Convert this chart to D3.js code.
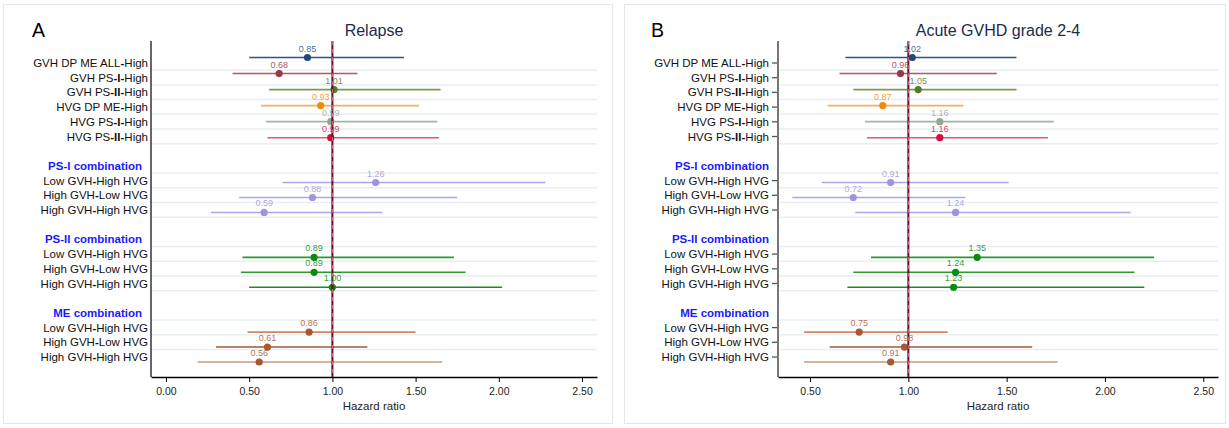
<!DOCTYPE html>
<html>
<head>
<meta charset="utf-8">
<script src="https://cdn.jsdelivr.net/npm/d3@7"></script>
<style>
  body { margin: 0; background: #fff; }
  svg { display: block; font-family: "Liberation Sans", Arial, sans-serif; }
</style>
</head>
<body>
<script>
// rows, top to bottom ("" = empty spacer row)
const rowLabels = [
  "GVH DP ME ALL-High", "GVH PS-I-High", "GVH PS-II-High", "HVG DP ME-High", "HVG PS-I-High", "HVG PS-II-High",
  "",
  "PS-I combination", "Low GVH-High HVG", "High GVH-Low HVG", "High GVH-High HVG",
  "",
  "PS-II combination", "Low GVH-High HVG", "High GVH-Low HVG", "High GVH-High HVG",
  "",
  "ME combination", "Low GVH-High HVG", "High GVH-Low HVG", "High GVH-High HVG"
];
const headerRows = [7, 12, 17];
// rows that carry an estimate
const estRows = [0, 1, 2, 3, 4, 5, 8, 9, 10, 13, 14, 15, 18, 19, 20];

// A: relapse
const relapseHR = [0.85, 0.68, 1.01, 0.93, 0.99, 0.99, 1.26, 0.88, 0.59, 0.89, 0.89, 1.00, 0.86, 0.61, 0.56];
const relapseLo = [0.50, 0.40, 0.62, 0.57, 0.60, 0.61, 0.70, 0.44, 0.27, 0.46, 0.45, 0.50, 0.49, 0.30, 0.19];
const relapseHi = [1.43, 1.15, 1.65, 1.52, 1.63, 1.64, 2.28, 1.75, 1.30, 1.73, 1.80, 2.02, 1.50, 1.21, 1.66];

// B: acute GVHD grade 2-4
const gvhdHR = [1.02, 0.96, 1.05, 0.87, 1.16, 1.16, 0.91, 0.72, 1.24, 1.35, 1.24, 1.23, 0.75, 0.98, 0.91];
const gvhdLo = [0.68, 0.65, 0.72, 0.59, 0.78, 0.79, 0.56, 0.41, 0.73, 0.81, 0.72, 0.69, 0.47, 0.60, 0.47];
const gvhdHi = [1.55, 1.45, 1.55, 1.28, 1.74, 1.71, 1.51, 1.29, 2.13, 2.25, 2.15, 2.20, 1.20, 1.63, 1.76];

const pointColors = ["#1f4b7a", "#933845", "#557a2a", "#ea8c0f", "#8fa89a", "#d1103c",
  "#9d97da", "#9d97da", "#9d97da", "#0a8a10", "#0a8a10", "#0a8a10", "#a8572f", "#a8572f", "#a8572f"];
const lineColors = ["#2d5680", "#b35866", "#7a9a50", "#f2b060", "#9fb5a9", "#e0587a",
  "#aba6e4", "#aba6e4", "#aba6e4", "#2d9a2d", "#2d9a2d", "#1f8a1f", "#c58a6a", "#9a5a3a", "#c59a80"];

const xTicksA = [0, 0.5, 1, 1.5, 2, 2.5];
const xTicksB = [0.5, 1, 1.5, 2, 2.5];

let width = 1229;
let height = 428;

let svg = d3.select("body")
    .append("svg")
    .attr("width", width)
    .attr("height", height);

let plotTop = 41;
let plotBottom = 377;

// label rows and marker rows sit on slightly different vertical scales in the original
let yLab = d3.scaleLinear().domain([0, 20]).range([63, 357]);
let yMark = d3.scaleLinear().domain([0, 5, 20]).range([57.5, 137.7, 362]);

let panels = [
  { letter: "A", title: "Relapse", frame: [3.5, 4.5, 609, 419], letterX: 32,
    labelX: 148, headerX: 142, axisX: 151, right: 597, domain: [-0.09, 2.59],
    ticks: xTicksA, hr: relapseHR, lo: relapseLo, hi: relapseHi, yTicks: false, yAxisColor: "#000" },
  { letter: "B", title: "Acute GVHD grade 2-4", frame: [624.5, 4.5, 601, 419], letterX: 651,
    labelX: 769, headerX: 769, axisX: 778, right: 1218, domain: [0.337, 2.575],
    ticks: xTicksB, hr: gvhdHR, lo: gvhdLo, hi: gvhdHi, yTicks: true, yAxisColor: "#777" }
];

// bold hyphens and roman numerals, as in the original labels
function addLabelText(sel, text) {
    let parts = text.split(/(-I+-|-)/);
    parts.forEach(p => {
        if (p === "") return;
        sel.append("tspan")
            .attr("font-weight", /^-/.test(p) ? "bold" : null)
            .text(p);
    });
}

panels.forEach(p => {
    let g = svg.append("g");

    g.append("rect")
        .attr("x", p.frame[0]).attr("y", p.frame[1])
        .attr("width", p.frame[2]).attr("height", p.frame[3])
        .attr("fill", "#fff")
        .attr("stroke", "#e6e6e6");

    g.append("text")
        .attr("x", p.letterX).attr("y", 37)
        .attr("font-size", 19.5)
        .attr("fill", "#000")
        .text(p.letter);

    g.append("text")
        .attr("x", (p.axisX + p.right) / 2).attr("y", 36)
        .attr("text-anchor", "middle")
        .attr("font-size", 16)
        .attr("fill", "#1c2b4a")
        .text(p.title);

    let x = d3.scaleLinear().domain(p.domain).range([p.axisX, p.right]);

    // gridlines under every filled row except the last
    let gridRows = rowLabels.map((l, i) => i).filter(i => rowLabels[i] !== "" && i < rowLabels.length - 1);
    g.selectAll(".grid")
        .data(gridRows)
        .enter().append("line")
        .attr("class", "grid")
        .attr("x1", p.axisX).attr("x2", p.right)
        .attr("y1", d => yLab(d) + 7.2).attr("y2", d => yLab(d) + 7.2)
        .attr("stroke", "#e9eef1")
        .attr("stroke-width", 1.5);

    // row labels
    rowLabels.forEach((l, i) => {
        if (l === "") return;
        let isHeader = headerRows.includes(i);
        let t = g.append("text")
            .attr("x", isHeader ? p.headerX : p.labelX)
            .attr("y", yLab(i))
            .attr("dy", "0.35em")
            .attr("text-anchor", "end")
            .attr("font-size", 11.5)
            .attr("fill", isHeader ? "#1a1aff" : "#111")
            .attr("font-weight", isHeader ? "bold" : null);
        if (isHeader) t.text(l);
        else addLabelText(t, l);
        if (p.yTicks && !isHeader) {
            g.append("line")
                .attr("x1", p.axisX - 6).attr("x2", p.axisX)
                .attr("y1", yLab(i)).attr("y2", yLab(i))
                .attr("stroke", "#555")
                .attr("stroke-width", 1.3);
        }
    });

    // y axis line
    g.append("line")
        .attr("x1", p.axisX).attr("x2", p.axisX)
        .attr("y1", plotTop).attr("y2", plotBottom)
        .attr("stroke", p.yAxisColor)
        .attr("stroke-width", p.yTicks ? 2 : 1.2);

    // x axis
    let xAxis = g.append("g")
        .attr("transform", `translate(0,${plotBottom})`)
        .call(d3.axisBottom(x)
            .tickValues(p.ticks)
            .tickFormat(d3.format(".2f"))
            .tickSize(5)
            .tickSizeOuter(0)
            .tickPadding(6));
    xAxis.select(".domain").attr("stroke", "#000").attr("stroke-width", 1.3);
    xAxis.selectAll(".tick line").attr("stroke", "#000");
    xAxis.selectAll(".tick text")
        .attr("font-size", 10.5)
        .attr("font-family", "Liberation Sans, Arial, sans-serif")
        .attr("fill", "#222");

    g.append("text")
        .attr("x", (p.axisX + p.right) / 2).attr("y", 410)
        .attr("text-anchor", "middle")
        .attr("font-size", 11.5)
        .attr("fill", "#222")
        .text("Hazard ratio");

    let est = estRows.map((r, k) => ({ row: r, k: k, hr: p.hr[k], lo: p.lo[k], hi: p.hi[k] }));

    // confidence intervals
    g.selectAll(".ci")
        .data(est)
        .enter().append("line")
        .attr("class", "ci")
        .attr("x1", d => x(d.lo)).attr("x2", d => x(d.hi))
        .attr("y1", d => yMark(d.row)).attr("y2", d => yMark(d.row))
        .attr("stroke", d => lineColors[d.k])
        .attr("stroke-width", 1.6);

    // markers
    g.selectAll(".pt")
        .data(est)
        .enter().append("circle")
        .attr("class", "pt")
        .attr("cx", d => x(d.hr))
        .attr("cy", d => yMark(d.row))
        .attr("r", 3.6)
        .attr("fill", d => pointColors[d.k]);

    // reference line at HR = 1
    g.append("line")
        .attr("x1", x(1)).attr("x2", x(1))
        .attr("y1", plotTop).attr("y2", plotBottom)
        .attr("stroke", "#4a1a28")
        .attr("stroke-width", 2);
    g.append("line")
        .attr("x1", x(1)).attr("x2", x(1))
        .attr("y1", plotTop).attr("y2", plotBottom)
        .attr("stroke", "#e8608a")
        .attr("stroke-width", 1)
        .attr("stroke-dasharray", "4,4");

    // value labels above markers
    g.selectAll(".val")
        .data(est)
        .enter().append("text")
        .attr("class", "val")
        .attr("x", d => x(d.hr))
        .attr("y", d => yMark(d.row) - 6)
        .attr("text-anchor", "middle")
        .attr("font-size", 9)
        .attr("fill", d => pointColors[d.k])
        .attr("fill-opacity", 0.85)
        .text(d => d3.format(".2f")(d.hr));
});
</script>
</body>
</html>
